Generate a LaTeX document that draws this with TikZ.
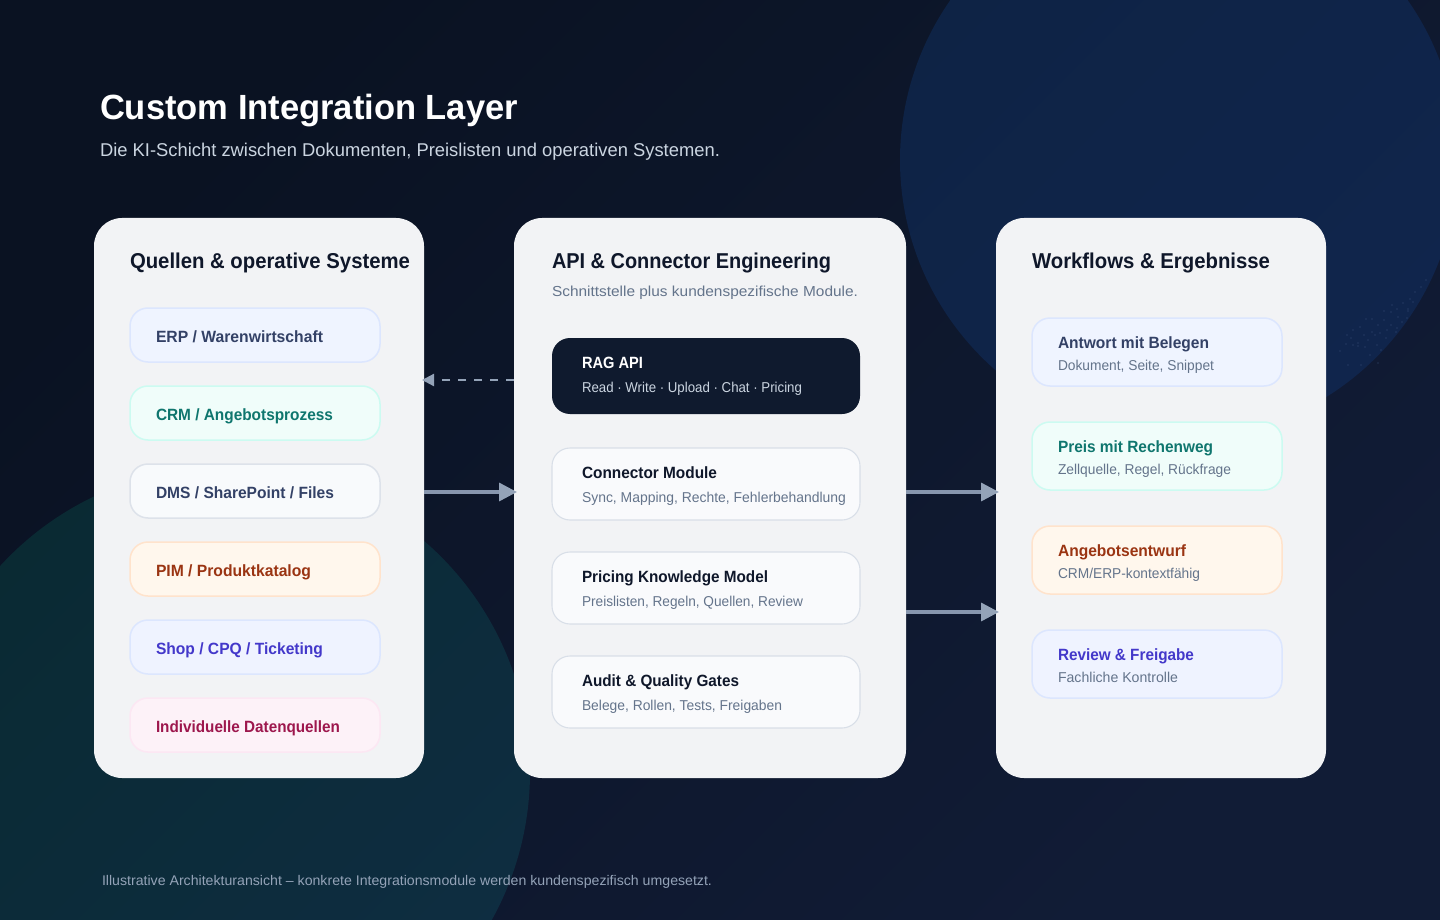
\documentclass[tikz,border=0pt]{standalone}
\usepackage{fontspec}
\setmainfont{Liberation Sans}
\definecolor{bgA}{HTML}{0A1222}
\definecolor{bgB}{HTML}{111C36}
\definecolor{blobA}{HTML}{0E2345}
\definecolor{blobB}{HTML}{10254C}
\definecolor{tealA}{HTML}{0A2A33}
\definecolor{tealB}{HTML}{0E2D41}
\definecolor{cardc}{HTML}{F2F3F5}
\definecolor{ink}{HTML}{0F172A}
\definecolor{muted}{HTML}{64748B}
\definecolor{light}{HTML}{CBD5E1}
\definecolor{arrowc}{HTML}{94A3B8}
\definecolor{shaftc}{HTML}{8796AE}
\definecolor{dotc}{HTML}{3B4F78}
\newcommand{\fitw}[2]{\sbox0{#2}\pgfmathsetmacro{\fitratio}{#1/\the\wd0}\scalebox{\fitratio}[1]{\usebox0}}
\usetikzlibrary{arrows.meta}
\tikzset{
  x=1pt,y=-1pt,
  card/.style={draw=none,fill=cardc,rounded corners=28pt,anchor=north west,inner sep=0,outer sep=0,minimum width=#1},
  chip/.style n args={3}{draw=#2,fill=#1,line width=1.5pt,rounded corners=18pt,anchor=north west,inner sep=0,outer sep=0,minimum width=#3},
  txt/.style={anchor=base west,inner sep=0,outer sep=0},
  arr/.style={draw=shaftc,line width=3.4pt,-{Triangle[length=18pt,width=18pt,fill=arrowc,color=arrowc]},shorten >=-3pt},
  darr/.style={draw=arrowc,line width=2.2pt,dash pattern=on 8pt off 8pt,-{Triangle[length=12pt,width=12pt,fill=arrowc,color=arrowc]},shorten >=-2pt},
}
\begin{document}
\begin{tikzpicture}
\useasboundingbox (0,0) rectangle (1440,920);
\shade[left color=bgA,right color=bgB,shading angle=45] (0,0) rectangle (1440,920);
\shade[left color=blobA,right color=blobB,shading angle=45] (1179,160) circle[radius=279];
\shade[left color=tealA,right color=tealB,shading angle=45] (225,772) circle[radius=305];
\foreach \x/\y in {1426/280,1421/287,1415/292,1410/299,1403/303,1413/302,1408/309,1397/309,1392/305,1384/311,1391/312,1398/317,1408/311,1384/320,1378/325,1372/319,1366/319,1360/327,1353/330,1347/335,1340/351,1346/344,1353/345,1358/343,1351/338,1358/346,1365/347,1368/340,1375/335,1380/333,1387/330,1391/325,1397/328,1402/322,1407/318,1377/345,1370/355,1348/365,1361/365,1378/363,1364/335,1372/332,1386/338,1396/332,1381/350}{
  \fill[dotc] (\x,\y) circle[radius=0.55];
}
\node[txt,text=white,font=\bfseries\fontsize{35}{40}\selectfont] (title) at (100,120) {\fitw{418}{Custom Integration Layer}};
\node[txt,text=light,font=\fontsize{18.5}{22}\selectfont] (subtitle) at (100,156.5) {\fitw{620}{Die KI-Schicht zwischen Dokumenten, Preislisten und operativen Systemen.}};

\node[card=330pt,minimum height=560pt] (cardL) at (94,218) {};
\node[card=392pt,minimum height=560pt] (cardM) at (514,218) {};
\node[card=330pt,minimum height=560pt] (cardR) at (996,218) {};

\tikzset{head/.style={txt,text=ink,font=\bfseries\fontsize{21.5}{26}\selectfont}}
\node[head] (hL) at (130,268) {\fitw{280}{Quellen \& operative Systeme}};
\node[head] (hM) at (552,268) {\fitw{279}{API \& Connector Engineering}};
\node[head] (hR) at (1032,268) {\fitw{238}{Workflows \& Ergebnisse}};
\node[txt,text=muted,font=\fontsize{14.5}{18}\selectfont] (hMs) at (552,296) {\fitw{306}{Schnittstelle plus kundenspezifische Module.}};

\tikzset{
  clab/.style={txt,font=\bfseries\fontsize{16.3}{20}\selectfont,text=#1},
  csub/.style={txt,font=\fontsize{14.3}{18}\selectfont,text=#1},
}
% left chips
\foreach \n/\y/\fillc/\bc/\tc/\w/\t in {
 l1/308/EFF4FF/DCE6FE/334166/167/{ERP / Warenwirtschaft},
 l2/386/F0FDFA/CCFBF1/0F766E/177/{CRM / Angebotsprozess},
 l3/464/F8FAFC/DDE2EA/334166/178/{DMS / SharePoint / Files},
 l4/542/FFF7ED/FFE3CC/9A3412/155/{PIM / Produktkatalog},
 l5/620/EFF3FF/DCE6FE/4338CA/167/{Shop / CPQ / Ticketing},
 l6/698/FDF2F8/FCE7F3/9D174D/184/{Individuelle Datenquellen}}{
  \definecolor{fc}{HTML}{\fillc}\definecolor{bcc}{HTML}{\bc}\definecolor{tcc}{HTML}{\tc}
  \node[chip={fc}{bcc}{250pt},minimum height=54pt] (\n) at (130,\y) {};
  \node[clab=tcc] (\n t) at (156,\y+34) {\fitw{\w}{\t}};
}
% middle chips
\definecolor{ragc}{HTML}{0F1A2E}
\node[chip={ragc}{ragc}{308pt},draw=none,minimum height=76pt] (rag) at (552,338) {};
\node[clab=white] (ragt) at (582,368) {\fitw{61}{RAG API}};
\node[csub=light] (rags) at (582,392) {\fitw{220}{Read · Write · Upload · Chat · Pricing}};
\definecolor{mf}{HTML}{F9FAFC}\definecolor{mb}{HTML}{D9DFE8}
\foreach \n/\y/\wa/\ta/\wb/\tb in {
 m1/448/135/{Connector Module}/264/{Sync, Mapping, Rechte, Fehlerbehandlung},
 m2/552/186/{Pricing Knowledge Model}/221/{Preislisten, Regeln, Quellen, Review},
 m3/656/157/{Audit \& Quality Gates}/200/{Belege, Rollen, Tests, Freigaben}}{
  \node[chip={mf}{mb}{308pt},line width=1.1pt,minimum height=72pt] (\n) at (552,\y) {};
  \node[clab=ink] (\n t) at (582,\y+30) {\fitw{\wa}{\ta}};
  \node[csub=muted] (\n s) at (582,\y+54) {\fitw{\wb}{\tb}};
}
% right chips
\foreach \n/\y/\fillc/\bc/\tc/\wa/\ta/\wb/\tb in {
 r1/318/EFF4FF/DCE6FE/334166/151/{Antwort mit Belegen}/156/{Dokument, Seite, Snippet},
 r2/422/F0FDFA/CCFBF1/0F766E/155/{Preis mit Rechenweg}/173/{Zellquelle, Regel, Rückfrage},
 r3/526/FFF7ED/FFE3CC/9A3412/128/{Angebotsentwurf}/142/{CRM/ERP-kontextfähig},
 r4/630/EFF3FF/DCE6FE/4338CA/136/{Review \& Freigabe}/120/{Fachliche Kontrolle}}{
  \definecolor{fc}{HTML}{\fillc}\definecolor{bcc}{HTML}{\bc}\definecolor{tcc}{HTML}{\tc}
  \node[chip={fc}{bcc}{250pt},minimum height=68pt] (\n) at (1032,\y) {};
  \node[clab=tcc] (\n t) at (1058,\y+30) {\fitw{\wa}{\ta}};
  \node[csub=muted] (\n s) at (1058,\y+52) {\fitw{\wb}{\tb}};
}
% connectors
\draw[darr] (cardM.west |- 0,380) -- (cardL.east |- 0,380);
\draw[arr] (cardL.east |- 0,492) -- (cardM.west |- 0,492);
\draw[arr] (cardM.east |- 0,492) -- (cardR.west |- 0,492);
\draw[arr] (cardM.east |- 0,612) -- (cardR.west |- 0,612);
\node[txt,text=arrowc,font=\fontsize{14}{18}\selectfont] (foot) at (102,885) {\fitw{610}{Illustrative Architekturansicht – konkrete Integrationsmodule werden kundenspezifisch umgesetzt.}};
\end{tikzpicture}
\end{document}
